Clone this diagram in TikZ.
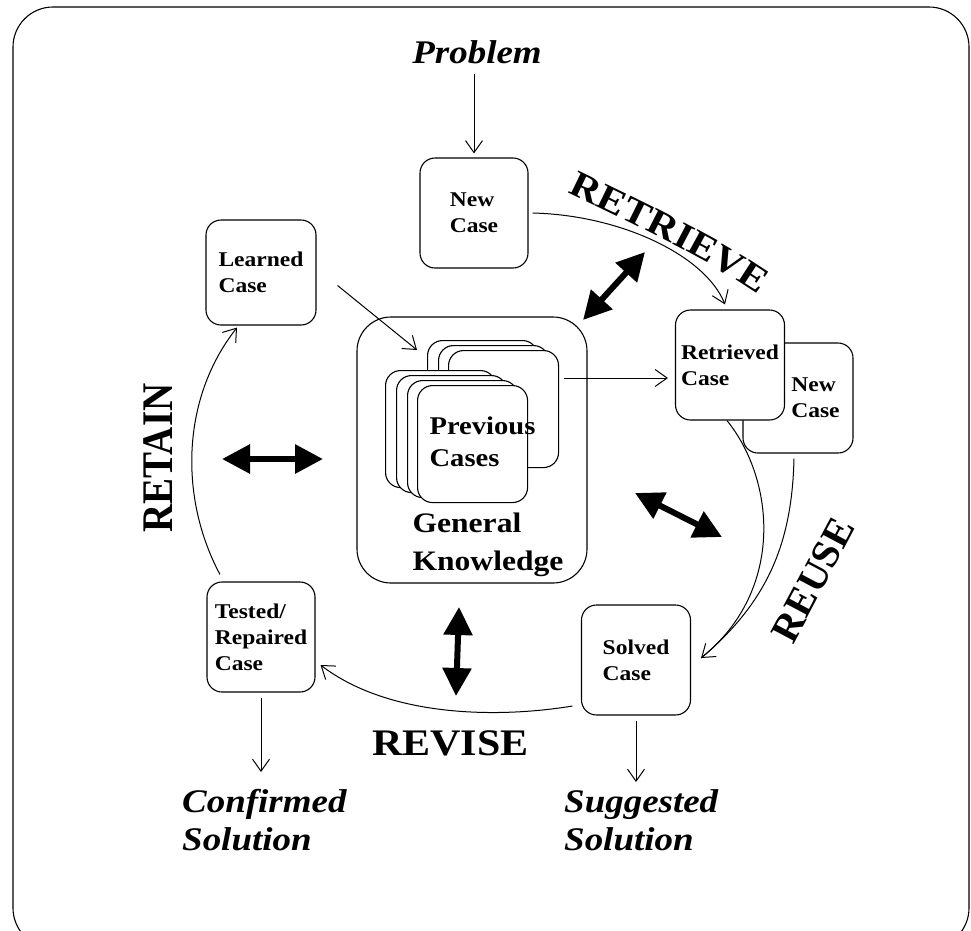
\documentclass[tikz,border=0pt]{standalone}
\usepackage{fontspec}
\usepackage{graphicx}
\setmainfont{Liberation Serif}[FakeStretch=1.12]
\newfontfamily\plainserif{Liberation Serif}
\usetikzlibrary{arrows.meta,decorations.text,calc}

\begin{document}
\begin{tikzpicture}[x=1pt,y=-1pt,
  casebox/.style={draw, line width=1.1pt, fill=white, rounded corners=15pt,
    minimum width=110pt, minimum height=110pt, inner sep=0pt, align=left,
    font=\bfseries\fontsize{21}{26}\selectfont},
  boxtext/.style={inner sep=0pt, align=left, font=\bfseries\fontsize{21}{26}\selectfont},
  card/.style={draw, line width=1.1pt, fill=white, rounded corners=15pt,
    minimum width=110pt, minimum height=117pt, inner sep=0pt, anchor=north west},
  flow/.style={line width=1pt, -{Straight Barb[length=12pt,width=17pt]}},
  plainflow/.style={line width=1pt},
  link/.style={line width=6pt,
    {Triangle[length=28pt,width=28pt]}-{Triangle[length=28pt,width=28pt]}},
  outcome/.style={font=\bfseries\itshape\fontsize{33}{38}\selectfont, inner sep=0pt, align=left},
  phase/.style={font=\bfseries\fontsize{37.5}{40}\selectfont, inner sep=0pt},
  sidephase/.style={font=\plainserif\bfseries\fontsize{40}{42}\selectfont, inner sep=0pt},
]

\useasboundingbox (0,0) rectangle (971,930);
\clip (0,0) rectangle (971,930);
\fill[white] (0,0) rectangle (971,930);

% outer frame
\draw[line width=1.1pt, rounded corners=40pt] (13,7) rectangle (969,948);

% case boxes around the cycle
\node[casebox, minimum width=108pt] (newcase) at (474,213) {New\\Case};
\node[casebox, minimum height=105pt] (learned) at (261,272.5) {Learned\\Case};
\node[casebox] (newcaseb) at (798,398) {};
\node[boxtext] (newcasebtxt) at ([xshift=17.5pt]newcaseb.center) {New\\Case};
\node[casebox, minimum width=109pt] (retrieved) at (730,365) {Retrieved\\Case};
\node[casebox, minimum width=109pt] (solved) at (636,660) {Solved\\Case};
\node[casebox, minimum width=108pt] (tested) at (261,637) {Tested/\\Repaired\\Case};

% general knowledge with the stacks of previous cases
\node[draw, line width=1.1pt, rounded corners=34pt, minimum width=230pt,
      minimum height=266pt] (gk) at (472,450) {};
\foreach \n/\x/\y in {1/427/340, 2/438/345, 3/448/350,
                      4/385/370, 5/396/375, 6/407/380, 7/417/385}
  \node[card] (card\n) at (\x,\y) {};
\node[inner sep=0pt, align=left, font=\bfseries\fontsize{25.5}{32}\selectfont]
  (prevtxt) at (482.5,442) {Previous\\Cases};
\node[inner sep=0pt, align=left, font=\bfseries\fontsize{28.2}{38}\selectfont]
  (gktxt) at (488,545) {General\\Knowledge};

% inputs and outputs
\node[outcome, anchor=base] (problem) at (477,63) {Problem};
\node[outcome, anchor=north west] (confirmed) at (182,789) {Confirmed\\Solution};
\node[outcome, anchor=north west] (suggested) at (564,789) {Suggested\\Solution};

% phase labels
\path[decorate, decoration={text along path, text align=center,
    text={|\bfseries\fontsize{37}{40}\selectfont|RETRIEVE}}]
  (540,179) -- (567,192) .. controls (625,220) and (705,258) .. (755,292) -- (784,312);
\node[sidephase, rotate=62] (reuse) at (813,580) {REUSE};
\node[phase, anchor=base] (revise) at (450.5,755) {REVISE};
\node[sidephase, font=\plainserif\bfseries\fontsize{39}{42}\selectfont, rotate=90]
  (retain) at (158,458) {\scalebox{1}[1.12]{RETAIN}};

% flow of the cycle
\coordinate (rcin) at ([yshift=-13pt]retrieved.west);
\coordinate (solvedin) at ([xshift=10pt,yshift=2pt]solved.east);

\draw[flow, shorten <=11pt, shorten >=4pt] (newcase.north |- problem.base) -- (newcase.north);
\draw[flow] ([xshift=4pt]newcase.east) .. controls (620,215) and (705,255)
  .. ([xshift=-5pt,yshift=5pt]retrieved.north);
\draw[flow] ([xshift=21pt,yshift=-13pt]learned.east) -- ($(card1.north west)+(-10,10)$);
\draw[flow, shorten <=5pt, shorten >=7pt] (card3.east |- rcin) -- (rcin);
\draw[flow] ([xshift=-3pt]retrieved.south) .. controls (775,480) and (785,590) .. (solvedin);
\draw[plainflow] ([xshift=-4pt,yshift=-5pt]newcaseb.south) .. controls (792,540) and (770,600) .. (solvedin);
\draw[flow] ([xshift=-8.5pt,yshift=-46pt]solved.west) .. controls (500,718) and (390,718)
  .. ([xshift=5pt,yshift=-28pt]tested.east);
\draw[flow] ([xshift=-41pt,yshift=7pt]tested.north) .. controls (180,500) and (180,400)
  .. ([xshift=-24pt,yshift=-2pt]learned.south);
\draw[flow, shorten <=5pt, shorten >=17pt] (tested.south) -- (tested.south |- confirmed.north);
\draw[flow, shorten <=5pt, shorten >=7pt] (solved.south) -- (solved.south |- suggested.north);

% links with the knowledge base
\coordinate (la) at (583,320);  \coordinate (lb) at (645,252);
\coordinate (lc) at (222,459);  \coordinate (ld) at (323,459);
\coordinate (le) at (635,493);  \coordinate (lf) at (722,537);
\coordinate (lg) at (459,607);  \coordinate (lh) at (456,696);
\draw[link] (la) -- (lb);
\draw[link] (lc) -- (ld);
\draw[link] (le) -- (lf);
\draw[link] (lg) -- (lh);
\end{tikzpicture}
\end{document}
